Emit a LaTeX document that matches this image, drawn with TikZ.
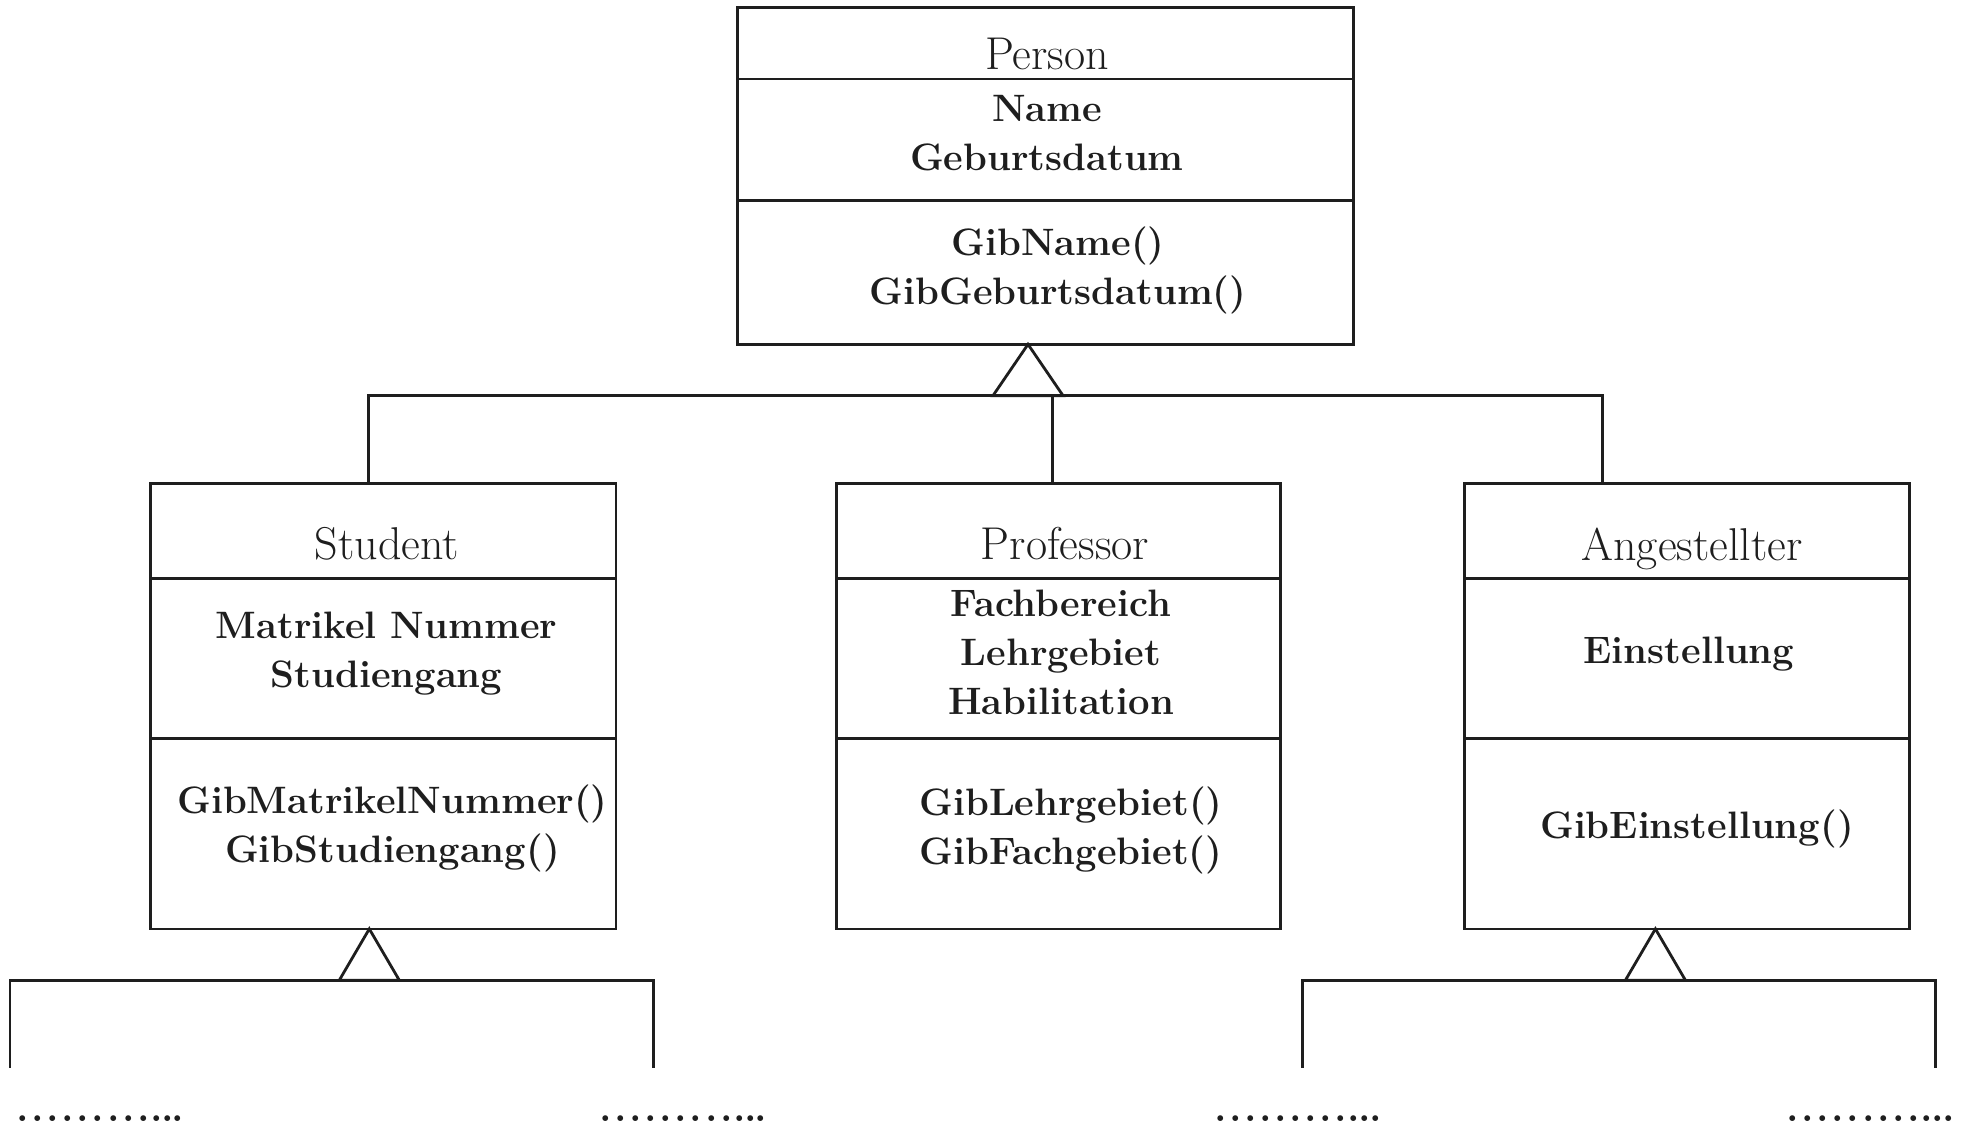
\documentclass[tikz,border=0pt]{standalone}
\usepackage{tikz}
\definecolor{ink}{HTML}{1E1E1E}
% row of continuation dots: nine spaced dots, then three tight ones
\newcommand\contdots{.\kern1.27pt.\kern1.27pt.\kern1.27pt.\kern1.27pt.\kern1.27pt.\kern1.27pt.\kern1.27pt.\kern1.27pt.\kern0.27pt.\kern-0.83pt.\kern-0.83pt.}
\begin{document}
\begin{tikzpicture}[x=0.5pt,y=-0.5pt,
  umlline/.style={line width=1.4pt, draw=ink, line join=miter},
  classbox/.style={umlline, rectangle, inner sep=0pt, outer sep=0pt},
  classname/.style={font=\fontsize{23}{27}\selectfont, text=ink, inner sep=0pt},
  members/.style={font=\fontsize{19.1}{24.5}\selectfont\bfseries, text=ink, align=center, inner sep=0pt},
  dotrow/.style={font=\fontsize{20}{24}\selectfont\bfseries, text=ink, anchor=base west, inner sep=0pt}]
\useasboundingbox (0,0) rectangle (1963,1125);

% ---------- class boxes ----------
\node[classbox, minimum width=307.95pt, minimum height=168.4pt] (person) at (1045.35,175.9) {};
\node[classbox, minimum width=232.9pt, minimum height=222.85pt] (student) at (383.1,706.05) {};
\node[classbox, minimum width=222.2pt, minimum height=222.85pt] (professor) at (1058.5,706.05) {};
\node[classbox, minimum width=222.2pt, minimum height=222.85pt] (angest) at (1686.9,706.05) {};

% compartment separators
\foreach \b/\ya/\yb in {person/78.9/200.3, student/578.4/738.6, professor/578.4/738.6, angest/578.4/738.6}{
  \coordinate (sa) at (0,\ya);
  \coordinate (sb) at (0,\yb);
  \draw[umlline] (\b.west |- sa) -- (\b.east |- sa);
  \draw[umlline] (\b.west |- sb) -- (\b.east |- sb);
}

% ---------- texts ----------
\node[classname] (personT) at (1047,54) {Person};
\node[members] (personA) at (1047,133.3) {Name\\Geburtsdatum};
\node[members] (personM) at (1058,270) {GibName()\\GibGeburtsdatum()};

\node[classname] (studentT) at (387,544) {Student};
\node[members] (studentA) at (386.5,654) {Matrikel Nummer\\Studiengang};
\node[members] (studentM) at (392.5,828.5) {GibMatrikelNummer()\\GibStudiengang()};

\node[classname] (professorT) at (1065,544) {Professor};
\node[members] (professorA) at (1061,652) {Fachbereich\\Lehrgebiet\\Habilitation};
\node[members] (professorM) at (1071,830) {GibLehrgebiet()\\GibFachgebiet()};

\node[classname] (angestT) at (1692,549) {Angestellter};
\node[members] (angestA) at (1689,654.5) {Einstellung};
\node[members] (angestM) at (1697,829) {GibEinstellung()};

% ---------- generalisation: Person ----------
\coordinate (apexP) at (1028,344.3);
\coordinate (busL) at (368.3,395.6);
\coordinate (busR) at (1602.5,395.6);
\coordinate (busP) at (1052.8,395.6);
\draw[umlline] (apexP) -- ++(35,51.3) -- ++(-70,0) -- cycle;
\draw[umlline] (student.north -| busL) |- (busR) -- (angest.north -| busR);
\draw[umlline] (busP) -- (professor.north -| busP);

% ---------- generalisation: Student ----------
\coordinate (apexS) at (369.3,928.9);
\coordinate (sEndL) at (10,1067.9);
\coordinate (sBusR) at (653.5,980.2);
\coordinate (sEndR) at (653.5,1067.9);
\draw[umlline] (apexS) -- ++(30,51.3) -- ++(-60,0) -- cycle;
\draw[umlline] (sEndL) |- (sBusR) -- (sEndR);

% ---------- generalisation: Angestellter ----------
\coordinate (apexA) at (1655.4,928.9);
\coordinate (aEndL) at (1302.6,1067.9);
\coordinate (aBusR) at (1935.5,980.2);
\coordinate (aEndR) at (1935.5,1067.9);
\draw[umlline] (apexA) -- ++(30,51.3) -- ++(-60,0) -- cycle;
\draw[umlline] (aEndL) |- (aBusR) -- (aEndR);

% ---------- continuation dots ----------
\node[dotrow] (dots1) at (16.3,1121) {\contdots};
\node[dotrow] (dots2) at (599.2,1121) {\contdots};
\node[dotrow] (dots3) at (1213.7,1121) {\contdots};
\node[dotrow] (dots4) at (1786.3,1121) {\contdots};
\end{tikzpicture}
\end{document}
